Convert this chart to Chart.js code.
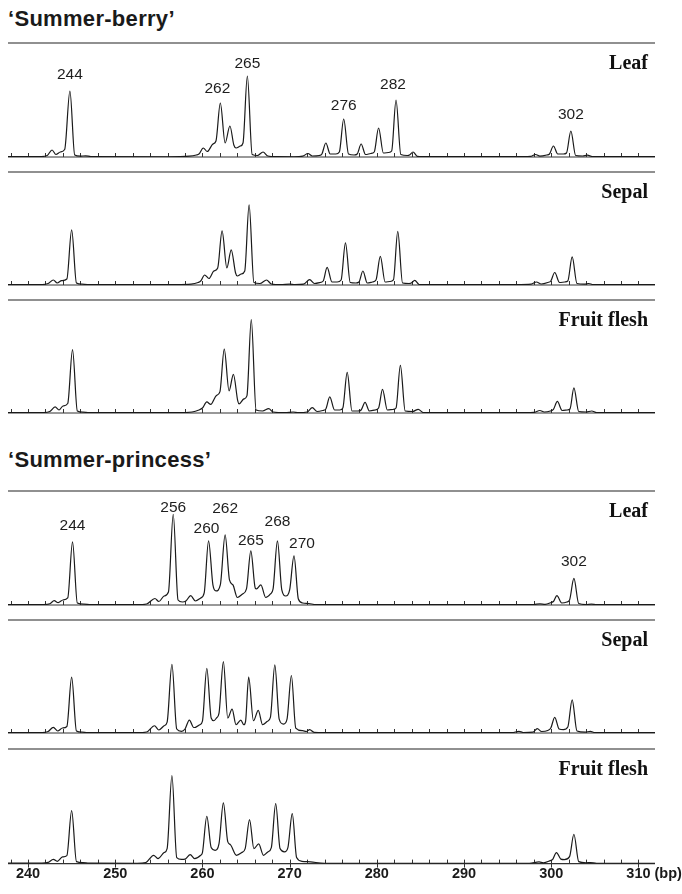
<!DOCTYPE html>
<html>
<head>
<meta charset="utf-8">
<script src="https://cdn.jsdelivr.net/npm/chart.js@4.4.1/dist/chart.umd.min.js"></script>
<style>
  body { margin: 0; width: 682px; height: 894px; background: #fff; position: relative; overflow: hidden; }
  .cultivar { position: absolute; left: 8px; font: bold 22px/24px "Liberation Sans", Arial, sans-serif; letter-spacing: 0.3px; color: #1a1a1a; white-space: nowrap; }
  canvas { position: absolute; left: 0; }
</style>
</head>
<body>
<div class="cultivar" style="top:7px">&#8216;Summer-berry&#8217;</div>
<div class="cultivar" style="top:448px">&#8216;Summer-princess&#8217;</div>
<div id="wrap"></div>
<script>
// fragment size range (bp) and labelled ticks
const xMin = 237.7, xMax = 311.9;
const sizeTicks = [240, 250, 260, 270, 280, 290, 300, 310];

// traces: [size in bp, signal]
const berryLeaf = [[237.7,0.5],[241.5,0.5],[242.2,1.5],[242.75,7],[243.2,2.5],[243.7,5],[244.2,7.5],[244.8,66],[245.35,2],[246,0.8],[246.6,1.2],[247.2,0.4],
  [256,0.2],[258.5,0.8],[259.3,2],[259.6,3],[260.1,9],[260.55,5.5],[261.2,13],[261.55,16],[262.05,54],[262.6,14],[263.15,31],[263.6,12],[263.85,9],[264.35,11],[264.65,14],[265.15,81],[265.7,2.5],[266.3,1.5],[266.95,5],[267.5,1],[268.5,0.3],
  [270.5,0.2],[271.5,0.8],[272.1,3.5],[272.6,1],[273.4,1.5],[273.7,3],[274.15,14],[274.65,3],[275.3,3],[275.7,5],[276.2,38],[276.75,3],[277.4,2],[277.75,3],[278.2,13],[278.7,2.5],[279.3,3.5],[279.7,5],[280.2,29],[280.75,4],[281.35,4.5],[281.7,6],[282.2,57],[282.75,2.5],[283.5,1.5],[283.75,2],[284.15,5],[284.65,0.6],[286,0.3],
  [296,0.3],[297.6,0.6],[298.2,2.5],[298.7,0.8],[299.5,2],[299.8,3],[300.25,11],[300.75,3],[301.4,3],[301.75,4],[302.25,26],[302.8,1.5],[303.6,1],[304.15,1.8],[304.7,0.5],[311.9,0.5]];

const berrySepal = [[237.7,0.5],[241.6,0.5],[242.3,1.5],[242.9,5],[243.35,2],[243.85,4.3],[244.45,6],[245.0,55],[245.55,2],[246.2,0.8],[246.8,0.5],
  [257,0.3],[258.7,0.8],[259.5,2.5],[259.8,4],[260.25,10],[260.75,6.5],[261.3,14],[261.75,17],[262.25,54],[262.8,17],[263.3,35],[263.8,12],[264.0,9],[264.45,11],[264.85,14],[265.35,80],[265.9,2.5],[266.6,1.5],[267.35,5],[267.9,1],[269,0.3],[270,0.9],[270.6,0.3],
  [271.6,0.8],[272.3,5.3],[272.85,1.5],[273.5,2.5],[273.85,4],[274.3,17.5],[274.85,3],[275.45,3],[275.9,5],[276.4,42],[276.95,2.5],[277.6,2],[277.95,3],[278.4,14],[278.9,2],[279.5,3],[279.9,5],[280.4,28.5],[280.95,3],[281.5,3.5],[281.9,5],[282.4,53.5],[282.95,2],[283.7,1.5],[283.95,2],[284.35,4.7],[284.85,0.5],[286,0.3],
  [296,0.3],[297.7,0.8],[298.3,3],[298.85,1],[299.6,2.5],[299.95,4],[300.4,12.5],[300.95,2.5],[301.55,3],[301.9,4],[302.4,28],[302.95,1.5],[303.8,0.8],[304.3,1.5],[304.8,0.4],[311.9,0.4]];

const berryFlesh = [[237.7,0.5],[241.8,0.5],[242.5,1.5],[243.1,6],[243.55,3],[244.0,7],[244.55,9.5],[245.1,63],[245.65,2],[246.3,0.8],[247,0.4],
  [257,0.3],[258.8,1],[259.6,3],[260.0,5],[260.5,11],[260.95,8.5],[261.6,17.5],[262.0,21],[262.5,63.5],[263.05,22],[263.55,38.5],[264.05,12],[264.2,9],[264.75,14],[265.1,17],[265.6,93],[266.15,3],[266.9,2],[267.6,4.3],[268.1,1],[269.5,0.3],[270.4,1],[271,0.4],
  [272,1],[272.6,5.3],[273.15,1.5],[273.8,2.5],[274.15,4],[274.6,16],[275.15,3],[275.75,3],[276.1,5],[276.6,40.5],[277.15,2],[277.85,2],[278.2,3],[278.65,10.5],[279.15,2],[279.8,3],[280.2,5],[280.65,23.5],[281.2,3],[281.85,3.5],[282.2,5],[282.7,47.5],[283.25,2],[284.1,1.5],[284.75,3.7],[285.3,0.5],[287,0.3],
  [296,0.3],[298,0.6],[298.7,2.5],[299.2,1],[299.9,2],[300.25,3.5],[300.7,11.5],[301.25,2.5],[301.85,3],[302.15,4],[302.6,25],[303.15,1.5],[304,1],[304.65,2],[305.2,0.4],[311.9,0.4]];

const princessLeaf = [[237.7,0.5],[241.8,0.5],[242.5,1.2],[243.0,4.3],[243.45,2.3],[244.0,5],[244.55,7],[245.1,63],[245.65,2],[246.4,0.8],[247.2,0.4],
  [252.5,0.3],[253.6,1],[254.55,6.5],[255.0,3.5],[255.6,9],[256.1,13],[256.65,90.5],[257.2,5],[257.7,3],[258.1,4],[258.65,9.3],[259.2,4],[259.8,7],[260.2,12],[260.7,64],[261.2,20],[261.55,14],[262.05,20],[262.6,70],[263.1,25],[263.5,20],[264.0,7.5],[264.6,11],[265.05,16],[265.55,54],[266.05,17],[266.2,16],[266.7,20],[267.25,7.5],[267.8,11],[268.1,16],[268.6,64],[269.1,15],[269.55,9],[270.0,15],[270.5,49],[271.0,6],[271.5,2],[272.2,1.5],[273,0.4],
  [296,0.3],[298,0.4],[298.7,1.2],[299.3,0.6],[300,2.5],[300.25,3.5],[300.65,9.3],[301.2,2],[301.8,3],[302.1,5],[302.6,26.5],[303.15,1.5],[304.0,0.5],[304.6,0.9],[305.2,0.3],[311.9,0.3]];

const princessSepal = [[237.7,0.5],[241.6,0.5],[242.3,1.5],[242.9,5.7],[243.4,2],[243.95,5],[244.45,6.5],[245.0,56],[245.55,2],[246.2,0.8],[246.8,0.4],
  [252.5,0.3],[253.6,1],[254.5,7.3],[255.0,3],[255.6,7.3],[255.95,11],[256.5,69],[257.05,4],[257.6,1.7],[258.0,4],[258.5,13],[259.0,5.5],[259.2,5.7],[259.7,8.3],[260.0,12],[260.5,65],[261.0,15],[261.3,12.3],[261.6,15],[261.9,20],[262.4,71.7],[262.9,15],[263.4,24],[263.85,8.3],[264.4,13],[264.75,8.3],[264.95,12],[265.3,56],[265.85,12.3],[266.4,22.7],[266.9,8.3],[267.45,11.7],[267.8,16],[268.3,68.3],[268.8,14],[269.3,9],[269.7,14],[270.2,57.7],[270.7,5],[271.5,2.3],[271.9,1.5],[272.3,3.3],[272.8,0.6],[274,0.3],
  [295.5,0.3],[296.3,1.7],[296.8,0.5],[297.9,0.8],[298.4,4.3],[298.9,1.5],[299.6,2.5],[299.95,5],[300.4,15.7],[300.9,4],[301.4,3.3],[301.9,6],[302.4,33.3],[302.95,2],[303.9,0.8],[304.5,1.7],[305,0.4],[311.9,0.4]];

const princessFlesh = [[237.7,0.5],[241.6,0.5],[242.3,1.2],[242.9,4.3],[243.35,2.3],[243.95,6.7],[244.45,8],[245.0,53],[245.55,2],[246.3,1],[247,0.4],
  [252.5,0.3],[253.5,1],[254.4,8.3],[254.9,5],[255.6,11],[255.95,15],[256.5,88],[257.05,6],[257.6,4.3],[258.0,4.5],[258.6,9],[259.1,5],[259.8,8.3],[260.0,11],[260.5,47.3],[261.0,16],[261.45,13.3],[261.9,20],[262.4,60.7],[262.9,22],[263.2,19],[263.9,8.3],[264.5,11],[264.9,15],[265.4,44],[265.9,15],[266.45,19.7],[267.0,8.3],[267.5,11.7],[267.9,16],[268.4,60],[268.9,15],[269.4,11.7],[269.8,16],[270.3,50],[270.8,6],[271.4,2.3],[272.4,1.7],[274,0.3],
  [297.5,0.3],[298.6,1.7],[299.1,0.8],[299.9,3],[300.15,4],[300.6,11],[301.1,4.5],[301.5,4],[302.1,7],[302.6,29.3],[303.15,2],[304,0.8],[304.5,1],[305.2,0.3],[311.9,0.3]];

// allele calls: label text and the size of the peak it marks
const berryCalls = ['244', '262', '265', '276', '282', '302'];
const berryCallBp = [244.8, 262.05, 265.15, 276.2, 282.2, 302.25];
const princessCalls = ['244', '256', '260', '262', '265', '268', '270', '302'];
const princessCallBp = [245.1, 256.65, 260.7, 262.6, 265.55, 268.6, 270.5, 302.6];

// label placement: [gap above peak px, x shift px]
const berryNudge = {244: [12, 0], 262: [10, -3], 265: [8, 0], 276: [9, 0], 282: [11, -3], 302: [12, 0]};
const princessNudge = {244: [12, 0], 256: [2, 0], 260: [8, -2], 262: [22, 0], 265: [6, 0], 268: [15, 0], 270: [8, 8], 302: [12, 0]};

const panels = [
  {trace: berryLeaf, tissue: 'Leaf', calls: berryCalls, callBp: berryCallBp, nudge: berryNudge, top: 43.3, base: 157.3},
  {trace: berrySepal, tissue: 'Sepal', top: 171.7, base: 284.5},
  {trace: berryFlesh, tissue: 'Fruit flesh', top: 300, base: 412.5},
  {trace: princessLeaf, tissue: 'Leaf', calls: princessCalls, callBp: princessCallBp, nudge: princessNudge, top: 490.7, base: 604.4},
  {trace: princessSepal, tissue: 'Sepal', top: 620, base: 733.4},
  {trace: princessFlesh, tissue: 'Fruit flesh', top: 749, base: 863.5, axis: true}
];

const tickFont = {family: '"Liberation Sans", Arial, sans-serif', size: 14.5, weight: 'bold'};

const tracePlugin = {
  id: 'trace',
  beforeDatasetsDraw(chart, args, opts) {
    const {ctx, chartArea: a, scales: {x}} = chart;
    ctx.save();
    // separator above the panel
    ctx.strokeStyle = '#6b6b6b';
    ctx.lineWidth = 1.5;
    ctx.beginPath(); ctx.moveTo(a.left, a.top); ctx.lineTo(a.right, a.top); ctx.stroke();
    // baseline and size ticks
    ctx.strokeStyle = '#333';
    ctx.lineWidth = 1.2;
    ctx.beginPath(); ctx.moveTo(a.left, a.bottom); ctx.lineTo(a.right, a.bottom); ctx.stroke();
    ctx.lineWidth = 1;
    ctx.beginPath();
    for (let v = 238; v <= 310; v += 2) {
      const px = Math.round(x.getPixelForValue(v)) + 0.5;
      const major = opts.axis && v % 10 === 0;
      ctx.moveTo(px, a.bottom - 4);
      ctx.lineTo(px, a.bottom + (major ? 4 : 0));
    }
    ctx.stroke();
    ctx.restore();
  },
  afterDatasetsDraw(chart, args, opts) {
    const {ctx, chartArea: a, scales: {x, y}} = chart;
    const pts = chart.data.datasets[0].data;
    ctx.save();
    ctx.fillStyle = '#111';
    ctx.font = 'bold 20px "Liberation Serif", "Times New Roman", serif';
    ctx.textAlign = 'right';
    ctx.textBaseline = 'alphabetic';
    ctx.fillText(opts.tissue, 648, a.top + 26);

    if (opts.calls) {
      ctx.font = '15.5px "Liberation Sans", Arial, sans-serif';
      ctx.fillStyle = '#1e1e1e';
      ctx.textAlign = 'center';
      opts.calls.forEach((txt, i) => {
        const bp = opts.callBp[i];
        let top = null;
        pts.forEach(p => { if (Math.abs(p[0] - bp) < 0.3 && (!top || p[1] > top[1])) top = p; });
        const [gap, dx] = opts.nudge[txt] || [10, 0];
        ctx.fillText(txt, x.getPixelForValue(top[0]) + dx, y.getPixelForValue(top[1]) - gap);
      });
    }

    if (opts.axis) {
      ctx.font = `bold ${tickFont.size}px ${tickFont.family}`;
      ctx.fillStyle = '#1a1a1a';
      ctx.textAlign = 'left';
      ctx.textBaseline = 'middle';
      const px = x.getPixelForValue(310) + ctx.measureText('310').width / 2 + 4;
      ctx.fillText('(bp)', px, a.bottom + 1.5 + tickFont.size * 1.2 / 2);
    }
    ctx.restore();
  }
};

const wrap = document.getElementById('wrap');
panels.forEach(p => {
  const padTop = 3, padBottom = p.axis ? 2 : 3;
  const h = p.base - p.top;
  const axisH = p.axis ? tickFont.size * 1.2 + 3 : 0;
  const cv = document.createElement('canvas');
  cv.width = 682;
  cv.height = Math.round(padTop + h + axisH + padBottom);
  cv.style.top = (p.top - padTop) + 'px';
  wrap.appendChild(cv);

  new Chart(cv, {
    type: 'line',
    data: {
      datasets: [{
        data: p.trace,
        borderColor: '#1a1a1a',
        borderWidth: 1.2,
        pointRadius: 0,
        fill: false,
        cubicInterpolationMode: 'monotone'
      }]
    },
    options: {
      responsive: false,
      animation: false,
      events: [],
      layout: {padding: {left: 8, right: 27, top: padTop, bottom: padBottom}},
      scales: {
        x: {
          type: 'linear', min: xMin, max: xMax, display: !!p.axis,
          afterBuildTicks: ax => { ax.ticks = sizeTicks.map(v => ({value: v})); },
          grid: {display: false, drawTicks: false},
          border: {display: false},
          ticks: {autoSkip: false, maxRotation: 0, padding: 1.5, color: '#1a1a1a', font: tickFont}
        },
        y: {min: 0, max: h, display: false}
      },
      plugins: {
        legend: {display: false},
        tooltip: {enabled: false},
        trace: {tissue: p.tissue, calls: p.calls, callBp: p.callBp, nudge: p.nudge, axis: p.axis}
      }
    },
    plugins: [tracePlugin]
  });
});
</script>
</body>
</html>
